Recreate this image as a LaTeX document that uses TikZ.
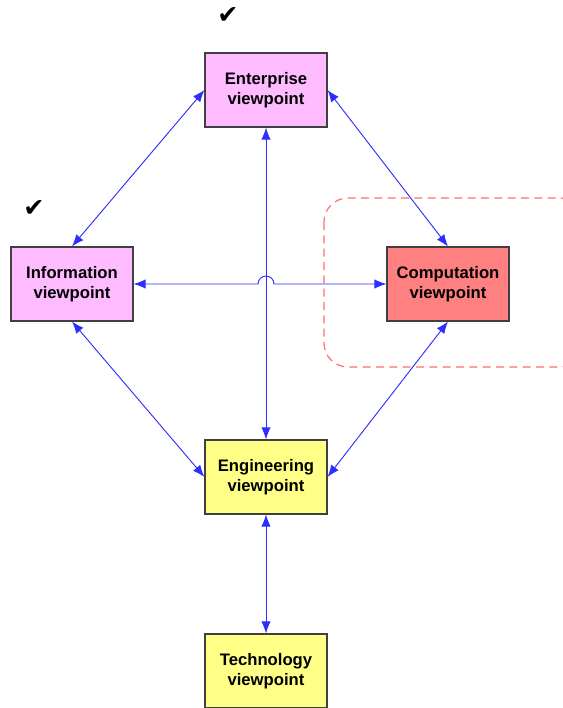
\documentclass[tikz,border=0pt]{standalone}
\usepackage{fontspec}
\setmainfont{Liberation Sans}
\newfontfamily\checkfont{DejaVu Sans}
\usetikzlibrary{arrows.meta}

\definecolor{pinkbox}{HTML}{FFBBFF}
\definecolor{redbox}{HTML}{FF8080}
\definecolor{yellowbox}{HTML}{FFFF88}
\definecolor{linkblue}{HTML}{2E2EFF}
\definecolor{framered}{HTML}{FF6F6F}

\begin{document}
\begin{tikzpicture}[x=0.75pt,y=-0.75pt]
        \useasboundingbox (0,0) rectangle (563,708);

        % dashed frame round the computation viewpoint
        \draw[framered, dash pattern=on 6pt off 4pt, line width=0.9pt, rounded corners=18pt]
          (324,198) rectangle (585,367);

        \begin{scope}[every node/.style={draw=black!75, line width=0.8pt, minimum width=91.5pt,
            minimum height=55.5pt, align=center, font=\fontsize{12.5}{15}\selectfont\bfseries}]
          \node[fill=pinkbox]   (ent)  at (266,90)  {Enterprise\\viewpoint};
          \node[fill=pinkbox]   (inf)  at (72,284)  {Information\\viewpoint};
          \node[fill=redbox]    (comp) at (448,284) {Computation\\viewpoint};
          \node[fill=yellowbox] (eng)  at (266,477) {Engineering\\viewpoint};
          \node[fill=yellowbox] (tech) at (266,671) {Technology\\viewpoint};
        \end{scope}

        \node[font=\checkfont\fontsize{19}{19}\selectfont] (chk1) at (228,16)  {✔};
        \node[font=\checkfont\fontsize{19}{19}\selectfont] (chk2) at (34,209)  {✔};

        \begin{scope}[>={Latex[length=9pt,width=7pt]}]
          \begin{scope}[every edge/.style={draw=linkblue, line width=0.7pt, <->}]
            \path (ent.west)  edge (inf.north);
            \path (ent.east)  edge (comp.north);
            \path (ent.south) edge (eng.north);
            \path (inf.south) edge (eng.west);
            \path (comp.south) edge (eng.east);
            \path (eng.south) edge (tech.north);
          \end{scope}

          % the line that jumps over the vertical one
          \coordinate (cross) at (ent.south |- inf.east);
          \draw[linkblue, line width=0.7pt, <->] (inf.east) -- ([xshift=-6pt]cross)
            arc[start angle=180, end angle=0, radius=6pt] -- (comp.west);
        \end{scope}

      \end{tikzpicture}
\end{document}
